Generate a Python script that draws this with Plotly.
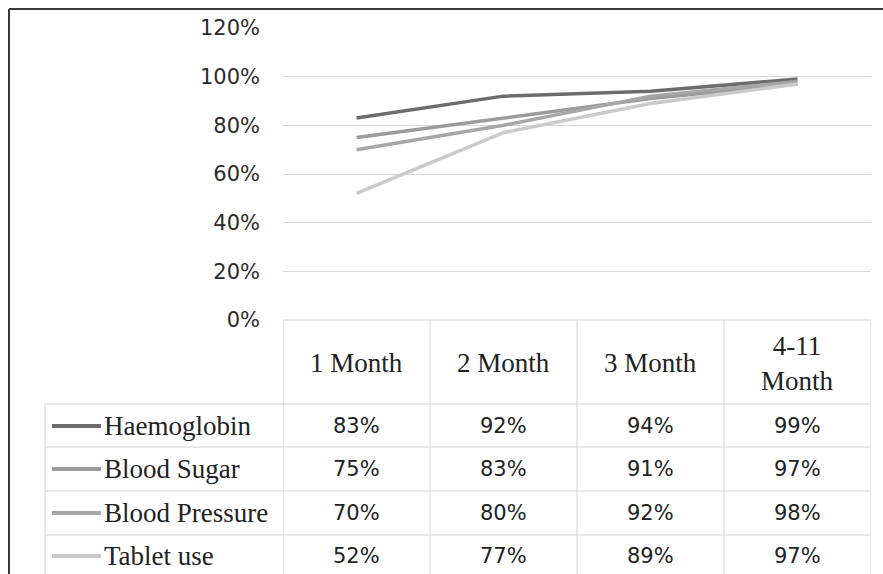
import plotly.graph_objects as go

# Follow-up periods (columns) and the share of patients per measure
periods = ["1 Month", "2 Month", "3 Month", "4-11<br>Month"]
series_names = ["Haemoglobin", "Blood Sugar", "Blood Pressure", "Tablet use"]
haemoglobin = [83, 92, 94, 99]
blood_sugar = [75, 83, 91, 97]
blood_pressure = [70, 80, 92, 98]
tablet_use = [52, 77, 89, 97]
y_ticks = [0, 20, 40, 60, 80, 100, 120]
y_tick_labels = ["0%", "20%", "40%", "60%", "80%", "100%", "120%"]

series_values = [haemoglobin, blood_sugar, blood_pressure, tablet_use]
series_colors = ["#6c6c6c", "#9b9b9b", "#a6a6a6", "#cacaca"]

W, H = 883, 574


def px(v):
    return v / W


def py(v):
    return 1 - v / H


SERIF = "Liberation Serif"
SANS = "DejaVu Sans"
GRID = "#d9d9d9"
TABLE_LINE = "#d4d4d4"
TEXT = "#222222"

fig = go.Figure()
xs = list(range(len(periods)))
for name, vals, col in zip(series_names, series_values, series_colors):
    fig.add_trace(go.Scatter(x=xs, y=vals, mode="lines", name=name,
                             line=dict(color=col, width=3.5),
                             showlegend=False, hoverinfo="skip"))

shapes = []
annotations = []

# outer frame (top and left edges)
shapes.append(dict(type="line", xref="paper", yref="paper",
                   x0=px(9), x1=1, y0=py(9), y1=py(9),
                   line=dict(color="#3a3a3a", width=2)))
shapes.append(dict(type="line", xref="paper", yref="paper",
                   x0=px(9), x1=px(9), y0=py(9), y1=0,
                   line=dict(color="#3a3a3a", width=2)))

# data table below the plot
header_top, header_bottom = 320, 404
row_edges = [404, 447, 491, 535, 574]
row_centers = [426, 469, 513, 556]

shapes.append(dict(type="line", xref="x", yref="paper",
                   x0=-0.5, x1=len(periods) - 0.5,
                   y0=py(header_top), y1=py(header_top),
                   line=dict(color=TABLE_LINE, width=1)))
for e in row_edges[:-1]:
    shapes.append(dict(type="line", xref="paper", yref="paper",
                       x0=px(45), x1=px(871), y0=py(e), y1=py(e),
                       line=dict(color=TABLE_LINE, width=1)))
shapes.append(dict(type="line", xref="paper", yref="paper",
                   x0=px(45), x1=px(45), y0=py(header_bottom), y1=0,
                   line=dict(color=TABLE_LINE, width=1)))
for i in range(len(periods) + 1):
    shapes.append(dict(type="line", xref="x", yref="paper",
                       x0=i - 0.5, x1=i - 0.5, y0=py(header_top), y1=0,
                       line=dict(color=TABLE_LINE, width=1)))

for j, p in enumerate(periods):
    annotations.append(dict(x=j, y=py(363), xref="x", yref="paper",
                            text=p, showarrow=False,
                            xanchor="center", yanchor="middle",
                            font=dict(family=SERIF, size=27, color=TEXT)))

for name, vals, col, yc in zip(series_names, series_values, series_colors, row_centers):
    shapes.append(dict(type="line", xref="paper", yref="paper",
                       x0=px(52), x1=px(101), y0=py(yc), y1=py(yc),
                       line=dict(color=col, width=4)))
    annotations.append(dict(x=px(102), y=py(yc), xref="paper", yref="paper",
                            text=name, showarrow=False,
                            xanchor="left", yanchor="middle",
                            font=dict(family=SERIF, size=27, color=TEXT)))
    for j, v in enumerate(vals):
        annotations.append(dict(x=j, y=py(yc), xref="x", yref="paper",
                                text=f"{v}%", showarrow=False,
                                xanchor="center", yanchor="middle",
                                font=dict(family=SANS, size=21, color=TEXT)))

fig.update_layout(
    width=W, height=H,
    margin=dict(l=0, r=0, t=0, b=0, pad=0, autoexpand=False),
    paper_bgcolor="white", plot_bgcolor="white",
    xaxis=dict(domain=[px(283), px(871)], range=[-0.5, len(periods) - 0.5],
               visible=False, fixedrange=True, automargin=False),
    yaxis=dict(domain=[py(320), py(28)], range=[0, 120],
               tickvals=y_ticks, ticktext=y_tick_labels,
               showgrid=True, gridcolor=GRID, gridwidth=1,
               zeroline=False, showline=False, ticks="",
               ticklabelstandoff=22, automargin=False,
               tickfont=dict(family=SANS, size=21, color="#2b2b2b"),
               fixedrange=True),
    shapes=shapes,
    annotations=annotations,
)

fig.write_html("out.html", config={"displayModeBar": False})
